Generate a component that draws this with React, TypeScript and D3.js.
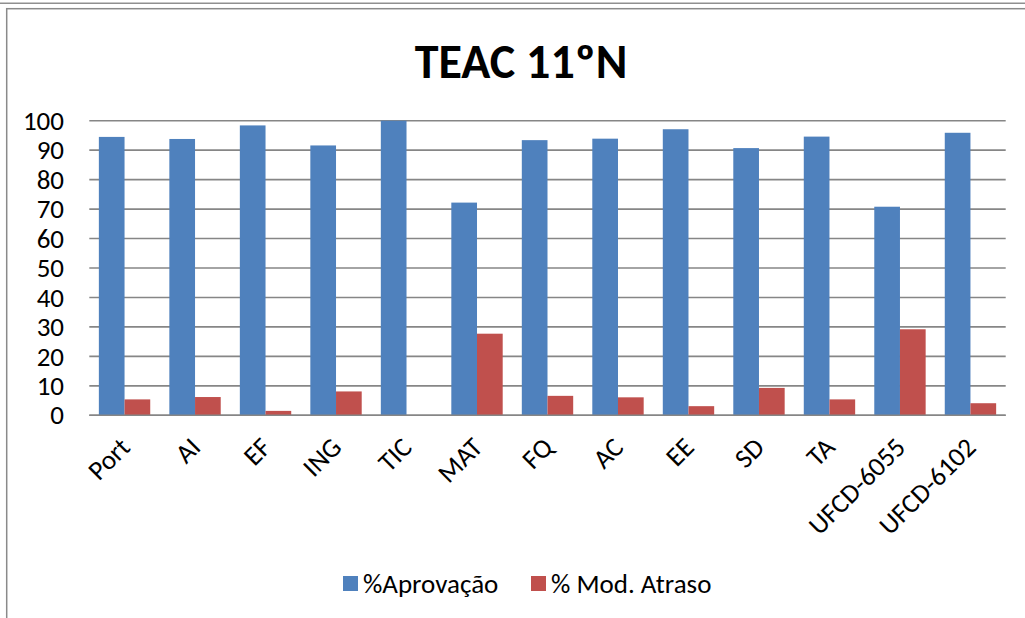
import { useEffect, useRef } from "react";
import * as d3 from "d3";

// subjects and results (%)
const subjects = ["Port", "AI", "EF", "ING", "TIC", "MAT", "FQ", "AC", "EE", "SD", "TA", "UFCD-6055", "UFCD-6102"];
const aprovacao = [94.5, 93.8, 98.4, 91.6, 100, 72.2, 93.4, 93.9, 97.1, 90.7, 94.6, 70.8, 95.9];
const atraso = [5.4, 6.2, 1.5, 8.1, 0, 27.7, 6.6, 6.1, 3.1, 9.3, 5.4, 29.2, 4.1];
const seriesNames = ["%Aprovação", "% Mod. Atraso"];
const yTicks = [0, 10, 20, 30, 40, 50, 60, 70, 80, 90, 100];

export default function App() {
    const chart = useRef<SVGSVGElement>(null);

    useEffect(() => {
        const svg = d3.select(chart.current);
        svg.selectAll("*").remove();

        const width = 1025, height = 618;
        const margin = { top: 120.7, right: 19.3, bottom: 202.7, left: 89.3 };
        const colors = ["#4F81BD", "#C0504D"];
        const font = "Calibri, Carlito, 'Open Sans', sans-serif";
        const fs = 27;

        const x0 = d3.scaleBand<string>()
            .domain(subjects)
            .range([margin.left, width - margin.right])
            .padding(0);
        const x1 = d3.scaleBand<string>()
            .domain(seriesNames)
            .range([0, x0.bandwidth()])
            .paddingInner(0)
            .paddingOuter(0.372);
        const y = d3.scaleLinear().domain([0, 100]).range([height - margin.bottom, margin.top]);

        const rows = subjects.map((s, i) => ({ subject: s, values: [aprovacao[i], atraso[i]] }));

        // frame
        svg.append("line")
            .attr("x1", 0).attr("x2", width).attr("y1", 3.2).attr("y2", 3.2)
            .attr("stroke", "#8f8f8f").attr("stroke-width", 1.5);
        svg.append("rect")
            .attr("x", 6.7).attr("y", 8.7).attr("width", width + 20).attr("height", height + 20)
            .attr("fill", "none").attr("stroke", "#8a8a8a").attr("stroke-width", 1.5);

        // title
        svg.append("text")
            .attr("x", 521).attr("y", 78)
            .attr("text-anchor", "middle")
            .attr("font-family", font)
            .attr("font-weight", "bold")
            .attr("font-size", 48)
            .text("TEAC 11ºN");

        // gridlines
        svg.append("g")
            .selectAll("line")
            .data(yTicks)
            .join("line")
            .attr("x1", margin.left).attr("x2", width - margin.right)
            .attr("y1", d => y(d)).attr("y2", d => y(d))
            .attr("stroke", "#868686").attr("stroke-width", 1.6);

        // y labels
        svg.append("g")
            .selectAll("text")
            .data(yTicks)
            .join("text")
            .attr("x", 64).attr("y", d => y(d))
            .attr("dy", "0.34em")
            .attr("text-anchor", "end")
            .attr("font-family", font).attr("font-size", fs)
            .text(d => d);

        // bars
        svg.append("g")
            .selectAll("g")
            .data(rows)
            .join("g")
            .attr("transform", d => `translate(${x0(d.subject)},0)`)
            .selectAll("rect")
            .data(d => d.values.map((v, i) => ({ key: seriesNames[i], value: v, i })))
            .join("rect")
            .attr("x", d => x1(d.key)!)
            .attr("width", x1.bandwidth())
            .attr("y", d => y(d.value))
            .attr("height", d => y(0) - y(d.value))
            .attr("fill", d => colors[d.i]);

        // axis line on top of bars
        svg.append("line")
            .attr("x1", margin.left).attr("x2", width - margin.right)
            .attr("y1", y(0)).attr("y2", y(0))
            .attr("stroke", "#868686").attr("stroke-width", 1.6);

        // x labels
        svg.append("g")
            .selectAll("text")
            .data(subjects)
            .join("text")
            .attr("transform", d => `translate(${x0(d)! + x0.bandwidth() / 2 + 7},449) rotate(-45)`)
            .attr("text-anchor", "end")
            .attr("font-family", font).attr("font-size", fs)
            .text(d => d);

        // legend
        const legendX = [343, 531];
        const legend = svg.append("g")
            .selectAll("g")
            .data(seriesNames)
            .join("g")
            .attr("transform", (d, i) => `translate(${legendX[i]},576)`);
        legend.append("rect")
            .attr("width", 15).attr("height", 15)
            .attr("fill", (d, i) => colors[i]);
        legend.append("text")
            .attr("x", 20).attr("y", 16.5)
            .attr("font-family", font).attr("font-size", fs)
            .text(d => d);
    }, []);

    return (
        <svg ref={chart} width={1025} height={618}
            style={{ position: "absolute", left: 0, top: 0, background: "#fff" }} />
    );
}
